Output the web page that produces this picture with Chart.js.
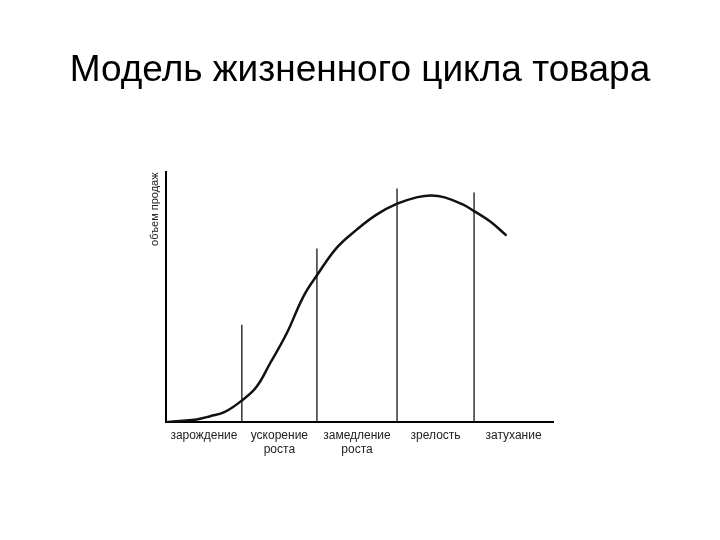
<!DOCTYPE html>
<html>
<head>
<meta charset="utf-8">
<script src="https://cdn.jsdelivr.net/npm/chart.js@4"></script>
<style>
  html, body { margin: 0; padding: 0; background: #fff; }
  #wrap { width: 720px; height: 540px; }
</style>
</head>
<body>
<div id="wrap"><canvas id="lifeCycleChart"></canvas></div>
<script>
// Sales curve (x: 0..100 along the time axis, y: 0..100 sales)
const curveX = [0, 3.6, 7.9, 11.4, 15.2, 19.7, 23.4, 26.9, 31.2, 35.5, 39.1, 44.1, 49.3, 54.4, 59.6, 65.0, 68.6, 72.0, 76.8, 79.6, 83.7, 88.0];
const curveY = [0, 0.5, 1.1, 2.4, 4.1, 8.8, 14.2, 23.6, 35.6, 50.3, 59.0, 69.8, 77.1, 83.1, 87.4, 90.1, 90.8, 90.0, 87.1, 84.5, 80.4, 74.7];

// Stage borders on the time axis and the height of each divider line
const stageBounds = [0, 19.6, 39.0, 59.7, 79.6, 100];
const dividerTops = [39.0, 69.5, 93.6, 92.0];

// Stage names (tick labels, multi-line where needed)
const stageLabels = [
    ['зарождение'],
    ['ускорение', 'роста'],
    ['замедление', 'роста'],
    ['зрелость'],
    ['затухание']
];

const titleText = 'Модель жизненного цикла товара';
const yTitle = 'объем продаж';

// Midpoints of the stages, where the labels go
const stageMids = stageLabels.map((l, i) => (stageBounds[i] + stageBounds[i + 1]) / 2);

const datasets = [
    {
        data: curveX.map((x, i) => ({ x: x, y: curveY[i] })),
        borderColor: '#111',
        borderWidth: 2.5,
        pointRadius: 0,
        tension: 0.4,
        fill: false
    }
];

// Vertical dividers between the stages
dividerTops.forEach((top, i) => {
    const x = stageBounds[i + 1];
    datasets.push({
        data: [{ x: x, y: 0 }, { x: x, y: top }],
        borderColor: '#000',
        borderWidth: 1.2,
        pointRadius: 0,
        tension: 0,
        fill: false
    });
});

const ctx = document.getElementById('lifeCycleChart').getContext('2d');
const lifeCycleChart = new Chart(ctx, {
    type: 'line',
    data: { datasets: datasets },
    options: {
        responsive: true,
        maintainAspectRatio: false,
        animation: false,
        layout: {
            padding: { left: 0, right: 0, top: 0, bottom: 77 }
        },
        plugins: {
            legend: { display: false },
            tooltip: { enabled: false },
            title: {
                display: true,
                text: titleText,
                color: '#000',
                font: { family: 'Liberation Sans', size: 37, weight: 'normal' },
                padding: { top: 49, bottom: 79 }
            }
        },
        scales: {
            x: {
                type: 'linear',
                min: 0,
                max: 100,
                grid: { display: false, drawTicks: false },
                border: { display: true, color: '#000', width: 2 },
                afterBuildTicks: function(axis) {
                    axis.ticks = stageMids.map(v => ({ value: v }));
                },
                ticks: {
                    autoSkip: false,
                    maxRotation: 0,
                    padding: 6,
                    color: '#222',
                    font: { family: 'Liberation Sans', size: 12 },
                    callback: function(value) {
                        const i = stageMids.indexOf(value);
                        return i >= 0 ? stageLabels[i] : '';
                    }
                }
            },
            y: {
                type: 'linear',
                min: 0,
                max: 100,
                grid: { display: false, drawTicks: false },
                border: { display: true, color: '#000', width: 2 },
                ticks: { display: false },
                afterFit: function(axis) { axis.width = 166; },
                title: {
                    display: true,
                    text: yTitle,
                    align: 'end',
                    color: '#222',
                    font: { family: 'Liberation Sans', size: 11 },
                    padding: { top: 148, bottom: 0 }
                }
            },
            // empty right-hand axis only to keep the plot narrow
            yRight: {
                type: 'linear',
                position: 'right',
                grid: { display: false, drawTicks: false },
                border: { display: false },
                ticks: { display: false },
                afterFit: function(axis) { axis.width = 167; }
            }
        }
    }
});
</script>
</body>
</html>
